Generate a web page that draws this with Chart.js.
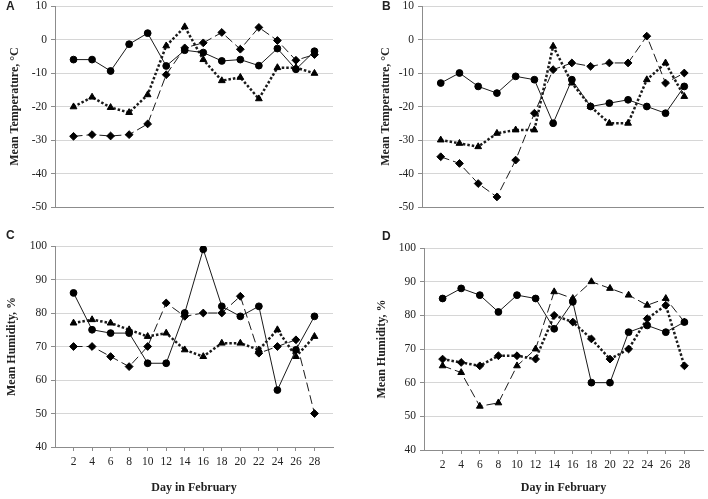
<!DOCTYPE html>
<html>
<head>
<meta charset="utf-8">
<script src="https://cdn.jsdelivr.net/npm/chart.js@4"></script>
<style>
  body { margin: 0; background: #fff; width: 708px; height: 499px; position: relative; overflow: hidden; }
  canvas { position: absolute; }
  .tag { position: absolute; font: bold 12px 'Liberation Sans', Arial, sans-serif; color: #222; }
</style>
</head>
<body>
<canvas id="chartA" width="354" height="240" style="left:0;top:0"></canvas>
<canvas id="chartB" width="354" height="240" style="left:354px;top:0"></canvas>
<canvas id="chartC" width="354" height="259" style="left:0;top:240px"></canvas>
<canvas id="chartD" width="354" height="259" style="left:354px;top:240px"></canvas>
<div class="tag" style="left:6px;top:-1px">A</div>
<div class="tag" style="left:382px;top:-1px">B</div>
<div class="tag" style="left:6px;top:228px">C</div>
<div class="tag" style="left:382px;top:229px">D</div>
<script>
var days = [2, 4, 6, 8, 10, 12, 14, 16, 18, 20, 22, 24, 26, 28]

// A - temperature
var tempA_circle = [-6, -6, -9.4, -1.4, 1.9, -7.9, -3.2, -3.9, -6.4, -6, -7.8, -2.7, -8.9, -3.5]
var tempA_diamond = [-28.9, -28.4, -28.8, -28.4, -25.2, -10.5, -2.5, -1, 2.1, -2.9, 3.6, -0.3, -6.2, -4.5]
var tempA_triangle = [-20.1, -17.2, -20.3, -21.8, -16.5, -1.9, 3.8, -6, -12.3, -11.3, -17.7, -8.4, -8.4, -10.1]

// B - temperature
var tempB_circle = [-13, -10, -14, -16, -11, -12, -25, -12, -20, -19, -18, -20, -22, -14]
var tempB_diamond = [-35, -37, -43, -47, -36, -22, -9, -7, -8, -7, -7, 1, -13, -10]
var tempB_triangle = [-30, -31, -32, -28, -27, -27, -2, -13, -20, -25, -25, -12, -7, -17]

// C - humidity
var humC_circle = [86, 75, 74, 74, 65, 65, 80, 99, 82, 79, 82, 57, 69, 79]
var humC_diamond = [70, 70, 67, 64, 70, 83, 79, 80, 80, 85, 68, 70, 72, 50]
var humC_triangle = [77, 78, 77, 75, 73, 74, 69, 67, 71, 71, 69, 75, 67, 73]

// D - humidity
var humD_circle = [85, 88, 86, 81, 86, 85, 76, 84, 60, 60, 75, 77, 75, 78]
var humD_diamond = [67, 66, 65, 68, 68, 67, 80, 78, 73, 67, 70, 79, 83, 65]
var humD_triangle = [65, 63, 53, 54, 65, 70, 87, 85, 90, 88, 86, 83, 85, 78]

var tempTicks = [-50, 10]
var humTicks = [40, 100]

var serif = "'Liberation Serif', 'Times New Roman', serif"

function pts(values) {
  return days.map(function (d, i) { return { x: d, y: values[i] } })
}

function series(values, marker, line) {
  var ds = {
    data: pts(values),
    borderColor: '#1a1a1a',
    backgroundColor: '#000',
    pointBackgroundColor: '#000',
    pointBorderColor: '#000',
    pointBorderWidth: 1,
    pointStyle: marker,
    pointRadius: marker === 'circle' ? 3.4 : 3.9,
    borderWidth: 1,
    tension: 0,
    fill: false
  }
  if (line === 'dash') {
    ds.borderDash = [9, 4]
  } else if (line === 'dot') {
    ds.borderWidth = 2.5
    ds.borderDash = [2.5, 2]
  }
  return ds
}

function makeChart(id, range, yTitle, sets, lay) {
  var ctx = document.getElementById(id).getContext('2d')
  return new Chart(ctx, {
    type: 'line',
    data: { datasets: sets },
    options: {
      responsive: false,
      animation: false,
      layout: { padding: lay.pad },
      plugins: { legend: { display: false }, tooltip: { enabled: false } },
      scales: {
        x: {
          type: 'linear',
          min: 0,
          max: 30,
          afterFit: function (s) {
            s.height = lay.xH
            s.paddingLeft = 0
            s.paddingRight = 0
          },
          afterBuildTicks: function (s) {
            s.ticks = days.map(function (d) { return { value: d } })
          },
          ticks: {
            display: lay.showX,
            autoSkip: false,
            maxRotation: 0,
            padding: 4,
            color: '#222',
            font: { family: serif, size: 11.5 }
          },
          grid: {
            display: lay.showX,
            drawOnChartArea: false,
            drawTicks: true,
            tickLength: 4,
            tickColor: '#8c8c8c'
          },
          border: { display: true, color: '#8c8c8c', width: 1 },
          title: {
            display: lay.showX,
            text: 'Day in February',
            color: '#222',
            padding: { top: 0, bottom: 4 },
            font: { family: serif, size: 12, weight: 'bold' }
          }
        },
        y: {
          min: range[0],
          max: range[1],
          afterFit: function (s) {
            s.width = lay.yW
            s.paddingTop = 0
            s.paddingBottom = 0
          },
          ticks: {
            stepSize: 10,
            padding: 4,
            color: '#222',
            font: { family: serif, size: 11.5 }
          },
          grid: { color: '#d6d6d6', lineWidth: 1, drawTicks: true, tickLength: 4, tickColor: '#8c8c8c' },
          border: { display: true, color: '#8c8c8c', width: 1 },
          title: {
            display: true,
            text: yTitle,
            color: '#222',
            padding: { top: lay.titlePad, bottom: 0 },
            font: { family: serif, size: 12, weight: 'bold' }
          }
        }
      }
    }
  })
}

makeChart('chartA', tempTicks, 'Mean Temperature, \u00B0C', [
  series(tempA_circle, 'circle', 'solid'),
  series(tempA_diamond, 'rectRot', 'dash'),
  series(tempA_triangle, 'triangle', 'dot')
], { pad: { left: 0, right: 21, top: 6, bottom: 33 }, yW: 55, xH: 0, showX: false, titlePad: 8 })

makeChart('chartB', tempTicks, 'Mean Temperature, \u00B0C', [
  series(tempB_circle, 'circle', 'solid'),
  series(tempB_diamond, 'rectRot', 'dash'),
  series(tempB_triangle, 'triangle', 'dot')
], { pad: { left: 0, right: 1, top: 6, bottom: 33 }, yW: 68, xH: 0, showX: false, titlePad: 25 })

makeChart('chartC', humTicks, 'Mean Humidity, %', [
  series(humC_circle, 'circle', 'solid'),
  series(humC_diamond, 'rectRot', 'dash'),
  series(humC_triangle, 'triangle', 'dot')
], { pad: { left: 0, right: 21, top: 6, bottom: 0 }, yW: 55, xH: 52, showX: true, titlePad: 5 })

makeChart('chartD', humTicks, 'Mean Humidity, %', [
  series(humD_circle, 'circle', 'solid'),
  series(humD_diamond, 'rectRot', 'dot'),
  series(humD_triangle, 'triangle', 'dash')
], { pad: { left: 0, right: 2, top: 8, bottom: 0 }, yW: 70, xH: 49, showX: true, titlePad: 21 })
</script>
</body>
</html>
